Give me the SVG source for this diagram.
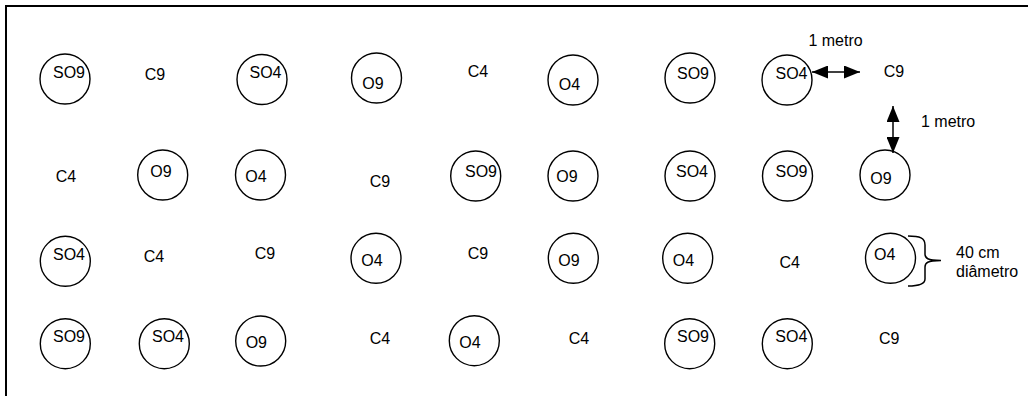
<svg xmlns="http://www.w3.org/2000/svg" width="1028" height="396" viewBox="0 0 1028 396">
<style>
  .c { fill: #fff; stroke: #000; stroke-width: 1.4; }
  .t { font-family: "Liberation Sans", Arial, sans-serif; font-size: 16px; fill: #000; text-anchor: middle; }
  .ts { font-family: "Liberation Sans", Arial, sans-serif; font-size: 16px; fill: #000; text-anchor: start; }
  .ln { stroke: #000; stroke-width: 1.5; fill: none; }
</style>
<defs>
  <marker id="ah" viewBox="0 0 16 13" refX="16" refY="6.5" markerWidth="16" markerHeight="13" markerUnits="userSpaceOnUse" orient="auto-start-reverse">
    <path d="M0,0 L16,6.5 L0,13 z" fill="#000"/>
  </marker>
</defs>
<rect x="0" y="0" width="1028" height="396" fill="#fff"/>
<path id="frame" d="M6,400 V6 H1030" fill="none" stroke="#000" stroke-width="2"/>

<!-- Row 1 -->
<g id="r1n1"><circle class="c" cx="65" cy="79" r="25"/><text class="t" x="69" y="77.5">SO9</text></g>
<g id="r1n2"><text class="t" x="155" y="79.5">C9</text></g>
<g id="r1n3"><circle class="c" cx="262" cy="79.5" r="25"/><text class="t" x="265.5" y="77.5">SO4</text></g>
<g id="r1n4"><circle class="c" cx="376.5" cy="78" r="25"/><text class="t" x="373" y="89">O9</text></g>
<g id="r1n5"><text class="t" x="478" y="77">C4</text></g>
<g id="r1n6"><circle class="c" cx="573" cy="80" r="25"/><text class="t" x="569.5" y="90">O4</text></g>
<g id="r1n7"><circle class="c" cx="690" cy="78" r="25"/><text class="t" x="693" y="78.5">SO9</text></g>
<g id="r1n8"><circle class="c" cx="787" cy="80" r="25"/><text class="t" x="791.5" y="78.5">SO4</text></g>
<g id="r1n9"><text class="t" x="894" y="77">C9</text></g>

<!-- Row 2 -->
<g id="r2n1"><text class="t" x="66" y="182">C4</text></g>
<g id="r2n2"><circle class="c" cx="162.7" cy="175" r="25"/><text class="t" x="161" y="176.5">O9</text></g>
<g id="r2n3"><circle class="c" cx="260.5" cy="175" r="25"/><text class="t" x="256" y="182">O4</text></g>
<g id="r2n4"><text class="t" x="380" y="187">C9</text></g>
<g id="r2n5"><circle class="c" cx="475.7" cy="176" r="25"/><text class="t" x="481" y="176.5">SO9</text></g>
<g id="r2n6"><circle class="c" cx="573" cy="176" r="25"/><text class="t" x="567" y="182">O9</text></g>
<g id="r2n7"><circle class="c" cx="690" cy="176" r="25"/><text class="t" x="692" y="176.5">SO4</text></g>
<g id="r2n8"><circle class="c" cx="787.5" cy="176" r="25"/><text class="t" x="791.5" y="176.5">SO9</text></g>
<g id="r2n9"><circle class="c" cx="885" cy="175" r="25"/><text class="t" x="881" y="184">O9</text></g>

<!-- Row 3 -->
<g id="r3n1"><circle class="c" cx="65.3" cy="261.3" r="25"/><text class="t" x="69" y="260">SO4</text></g>
<g id="r3n2"><text class="t" x="154" y="261.5">C4</text></g>
<g id="r3n3"><text class="t" x="265" y="258.5">C9</text></g>
<g id="r3n4"><circle class="c" cx="376" cy="258.3" r="25"/><text class="t" x="372" y="265.5">O4</text></g>
<g id="r3n5"><text class="t" x="478" y="258.5">C9</text></g>
<g id="r3n6"><circle class="c" cx="573.3" cy="258.3" r="25"/><text class="t" x="569" y="265.5">O9</text></g>
<g id="r3n7"><circle class="c" cx="687.7" cy="258.3" r="25"/><text class="t" x="683.5" y="265.5">O4</text></g>
<g id="r3n8"><text class="t" x="789.7" y="267.5">C4</text></g>
<g id="r3n9"><circle class="c" cx="890.5" cy="258.3" r="25"/><text class="t" x="884.7" y="260">O4</text></g>

<!-- Row 4 -->
<g id="r4n1"><circle class="c" cx="65.3" cy="343.7" r="25"/><text class="t" x="69" y="341.5">SO9</text></g>
<g id="r4n2"><circle class="c" cx="164.3" cy="343.7" r="25"/><text class="t" x="168" y="341.5">SO4</text></g>
<g id="r4n3"><circle class="c" cx="260.7" cy="341" r="25"/><text class="t" x="256.3" y="347.5">O9</text></g>
<g id="r4n4"><text class="t" x="380" y="343.5">C4</text></g>
<g id="r4n5"><circle class="c" cx="474.3" cy="340.7" r="25"/><text class="t" x="470" y="347.5">O4</text></g>
<g id="r4n6"><text class="t" x="579" y="343.5">C4</text></g>
<g id="r4n7"><circle class="c" cx="689.7" cy="343.7" r="25"/><text class="t" x="693" y="341.5">SO9</text></g>
<g id="r4n8"><circle class="c" cx="787.3" cy="343.7" r="25"/><text class="t" x="791.3" y="341.5">SO4</text></g>
<g id="r4n9"><text class="t" x="889.2" y="343.5">C9</text></g>

<!-- Connectors / dimension annotations -->
<g id="connectors">
  <line class="ln" x1="812" y1="72" x2="860" y2="72" marker-start="url(#ah)" marker-end="url(#ah)"/>
  <line class="ln" x1="893" y1="106" x2="893" y2="153" marker-start="url(#ah)" marker-end="url(#ah)"/>
  <path class="ln" d="M908,236 C920,236 925,238 925,245 V254 C925,258 927,260.5 941,260.5 M941,260.5 C927,260.5 925,263 925,267 V279 C925,284 920,286 908,286"/>
</g>
<g id="labels">
  <text class="t" x="835.5" y="45.5">1 metro</text>
  <text class="ts" x="921" y="127">1 metro</text>
  <text class="ts" x="956" y="257.5">40 cm</text>
  <text class="ts" x="956" y="276.5">diâmetro</text>
</g>
</svg>
